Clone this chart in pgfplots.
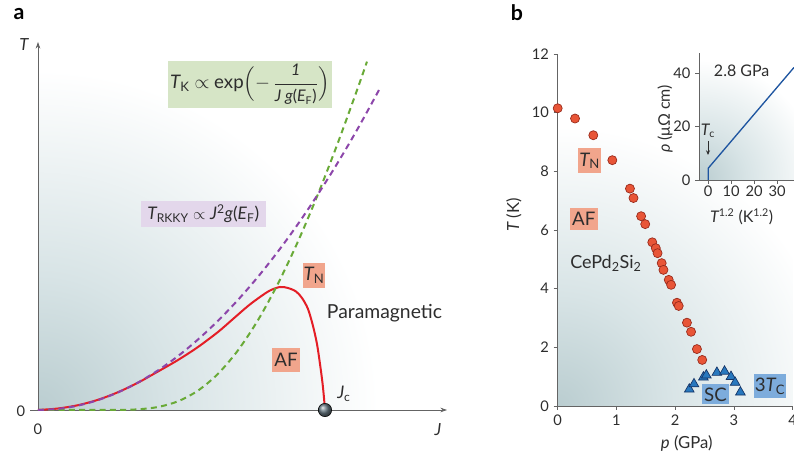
\documentclass[border=0pt]{standalone}
\usepackage{fontspec}
\setmainfont{Lato}
\usepackage{amsmath}
\usepackage{pgfplots}
\pgfplotsset{compat=1.18}
\usetikzlibrary{arrows.meta}
\definecolor{bgA}{RGB}{186,205,208}
\definecolor{bgB}{RGB}{216,228,230}
\definecolor{boxG}{RGB}{214,229,198}
\definecolor{boxP}{RGB}{227,215,235}
\definecolor{boxS}{RGB}{241,165,140}
\definecolor{boxB}{RGB}{125,172,220}
\definecolor{redc}{RGB}{228,30,38}
\definecolor{purc}{RGB}{140,70,170}
\definecolor{grnc}{RGB}{105,170,55}
\definecolor{circfill}{RGB}{232,85,55}
\definecolor{circedge}{RGB}{150,40,25}
\definecolor{trifill}{RGB}{40,120,190}
\definecolor{triedge}{RGB}{20,50,100}
\definecolor{insetline}{RGB}{30,85,160}
\definecolor{axgray}{RGB}{100,100,100}
\definecolor{txt}{RGB}{45,45,45}
\definecolor{ballc}{RGB}{105,122,132}
\pgfdeclareradialshading{bgshade}{\pgfpointorigin}{color(0bp)=(bgA); color(10bp)=(bgB); color(25bp)=(white); color(50bp)=(white)}
\newcommand\tickfont{\fontsize{11}{13}\selectfont}
\begin{document}
\begin{tikzpicture}[every node/.style={text=txt}]
\useasboundingbox (0,0) rectangle (595.5pt,349.5pt);
% ---------- backgrounds and axis arrows of panel a
\begin{scope}[yshift=349.5pt,x=0.75pt,y=-0.75pt]
  \begin{scope}
    \clip (38,410) rectangle (447,42);
    \shade[shading=bgshade] (38,410) circle (255pt);
  \end{scope}
  \begin{scope}
    \clip (557.7,406) rectangle (792.7,54);
    \shade[shading=bgshade] (557.7,406) circle (210pt);
  \end{scope}
  \begin{scope}
    \clip (699,180) rectangle (794,53.3);
    \shade[shading=bgshade] (699,180) circle (90pt);
  \end{scope}
  \draw[axgray, line width=0.6pt, -{Stealth[length=5pt,width=3.5pt]}] (30,410) -- (447,410);
  \draw[axgray, line width=0.6pt, -{Stealth[length=5pt,width=3.5pt]}] (38,410) -- (38,42);
\end{scope}
% ---------- panel a
\begin{axis}[at={(22.5pt,42pt)}, anchor=south west, scale only axis,
  width=312.75pt, height=276pt, xmin=-8, xmax=409, ymin=0, ymax=368,
  hide axis, clip=false]
\addplot[redc, line width=1.5pt, smooth, tension=0.5] coordinates {
(0,0)(20,1.5)(40,4.8)(60,10.2)(80,17.8)(100,27.3)(120,38.5)(140,50)(160,63)(180,78)(195,91)(210,104)(222,113)(232,119.5)(242,123)(250,122)(258,118.5)(264,112)(270,101)(275,84)(279,66)(282,46)(284.5,27)(286,12)(287,0)};
\addplot[grnc, line width=1.5pt, dash pattern=on 4.5pt off 3.2pt, smooth] coordinates {
(0,0)(40,0)(60,0)(80,0.07)(100,0.66)(120,3.0)(140,8.7)(160,19.4)(180,36.2)(200,59.7)(220,89.9)(240,126.4)(260,168.6)(280,215.9)(300,267.5)(320,322.6)(329,348.4)};
\addplot[purc, line width=1.5pt, dash pattern=on 4.5pt off 3.2pt, smooth] coordinates {
(0,0)(20,1.1)(40,4.4)(60,9.9)(80,17.6)(100,27.5)(120,39.6)(140,53.9)(160,70.5)(180,89.2)(200,110.1)(220,133.2)(240,158.5)(260,186.0)(280,215.8)(300,247.7)(320,281.8)(341,320.0)};
\addplot[only marks, mark=ball, mark size=5pt, ball color=ballc] coordinates {(287,0)};
\end{axis}
% ---------- panel b main
\begin{axis}[at={(418.275pt,45pt)}, anchor=south west, scale only axis,
  width=176.25pt, height=264pt, xmin=0, xmax=4, ymin=0, ymax=12,
  axis x line*=bottom, axis y line*=left,
  axis line style={-, draw=axgray, line width=0.6pt},
  xtick={0,1,2,3,4}, ytick={0,2,4,6,8,10,12},
  tick align=outside, major tick length=3pt,
  tick style={axgray, line width=0.6pt},
  ticklabel style={font=\tickfont, text=txt},
  /pgf/number format/assume math mode=true, clip=false]
\addplot[only marks, mark=*, mark size=3.4pt, mark options={fill=circfill, draw=circedge, line width=0.5pt}] coordinates {
(0,10.15)(0.295,9.80)(0.606,9.23)(0.93,8.38)(1.23,7.41)(1.29,7.09)(1.42,6.47)(1.49,6.20)(1.61,5.58)(1.67,5.38)(1.70,5.21)(1.77,4.87)(1.80,4.64)(1.89,4.30)(1.93,4.13)(2.03,3.52)(2.06,3.41)(2.20,2.84)(2.27,2.53)(2.37,1.94)(2.46,1.57)};
\addplot[only marks, mark=triangle*, mark size=4.2pt, mark options={fill=trifill, draw=triedge, line width=0.5pt}] coordinates {
(2.24,0.57)(2.32,0.75)(2.48,0.98)(2.53,1.05)(2.71,1.14)(2.84,1.18)(2.95,1.00)(3.02,0.80)(3.11,0.47)};
\end{axis}
% ---------- inset
\begin{axis}[at={(524.25pt,214.5pt)}, anchor=south west, scale only axis,
  width=71.25pt, height=95pt, xmin=-4, xmax=37.3, ymin=0, ymax=47.5,
  axis x line*=bottom, axis y line*=left,
  axis line style={-, draw=axgray, line width=0.6pt},
  xtick={0,10,20,30}, ytick={0,20,40},
  tick align=outside, major tick length=3pt,
  tick style={axgray, line width=0.6pt},
  ticklabel style={font=\tickfont, text=txt},
  xticklabel style={inner sep=1pt},
  /pgf/number format/assume math mode=true]
\addplot[insetline, line width=1pt] coordinates {(0,0)(0,4.4)(37.3,42.2)};
\end{axis}
% ---------- annotations
\begin{scope}[yshift=349.5pt,x=0.75pt,y=-0.75pt]
  \node[font=\fontsize{16}{18}\selectfont\bfseries, text=black] at (19,14) {a};
  \node[font=\fontsize{16}{18}\selectfont\bfseries, text=black] at (517,13) {b};
  \node[font=\fontsize{12.5}{14}\selectfont\itshape] at (24,45) {T};
  \node[font=\tickfont] at (21,411) {0};
  \node[font=\tickfont] at (38,429) {0};
  \node[font=\fontsize{12.5}{14}\selectfont\itshape] at (438,430) {J};
  \node[font=\fontsize{13}{15}\selectfont] at (344,394) {\itshape J\upshape\textsubscript{c}};
  \node[fill=boxG, minimum width=123pt, minimum height=35pt, inner sep=0pt, font=\fontsize{14}{16}\selectfont] at (250,84.5)
    {\itshape T\upshape\textsubscript{K} $\propto$ exp$\Bigl(-\,\dfrac{\text{\fontsize{12}{13}\selectfont\itshape 1}}{\text{\fontsize{12}{13}\selectfont\itshape J g\upshape(\itshape E\upshape\textsubscript{F})}}\Bigr)$};
  \node[fill=boxP, minimum width=94pt, minimum height=19pt, inner sep=0pt, font=\fontsize{13}{15}\selectfont] at (203.3,214)
    {\itshape T\upshape\textsubscript{RKKY} $\propto$ \itshape J\upshape\textsuperscript{2}\itshape g\upshape(\itshape E\upshape\textsubscript{F})};
  \node[fill=boxS, minimum width=16.5pt, minimum height=19pt, inner sep=0pt, font=\fontsize{14}{16}\selectfont] at (314,275.5) {\itshape T\upshape\textsubscript{N}};
  \node[fill=boxS, minimum width=21pt, minimum height=18pt, inner sep=0pt, font=\fontsize{14}{16}\selectfont] at (286,360) {AF};
  \node[font=\fontsize{14.5}{16}\selectfont] at (384.5,313) {Paramagnetic};
  % panel b
  \node[rotate=90, font=\fontsize{12.5}{14}\selectfont] at (514,215) {\itshape T\upshape\ (K)};
  \node[font=\fontsize{12.5}{14}\selectfont] at (686.7,443) {\itshape p\upshape\ (GPa)};
  \node[fill=boxS, minimum width=17pt, minimum height=19pt, inner sep=0pt, font=\fontsize{14}{16}\selectfont] at (589.7,160.8) {\itshape T\upshape\textsubscript{N}};
  \node[fill=boxS, minimum width=21pt, minimum height=16.5pt, inner sep=0pt, font=\fontsize{14}{16}\selectfont] at (583.8,219) {AF};
  \node[font=\fontsize{13.5}{15}\selectfont] at (606,263) {CePd\textsubscript{2}Si\textsubscript{2}};
  \node[fill=boxB, minimum width=20pt, minimum height=15pt, inner sep=0pt, font=\fontsize{14}{16}\selectfont] at (715.5,394.5) {SC};
  \node[fill=boxB, minimum width=24pt, minimum height=18pt, inner sep=0pt, font=\fontsize{14}{16}\selectfont] at (770,386) {3\itshape T\upshape\textsubscript{C}};
  % inset
  \node[font=\fontsize{12}{14}\selectfont] at (741.7,71) {2.8 GPa};
  \node[rotate=90, font=\fontsize{12}{14}\selectfont] at (665,119) {\itshape ρ\upshape\ (μΩ cm)};
  \node[font=\fontsize{12}{14}\selectfont] at (741.7,217) {\itshape T\upshape\textsuperscript{1.2} (K\textsuperscript{1.2})};
  \node[font=\fontsize{12}{14}\selectfont] at (708,131) {\itshape T\upshape\textsubscript{c}};
  \draw[txt, line width=0.6pt, -{Stealth[length=3.5pt,width=3pt]}] (708,141) -- (708,155);
\end{scope}
\end{tikzpicture}
\end{document}
